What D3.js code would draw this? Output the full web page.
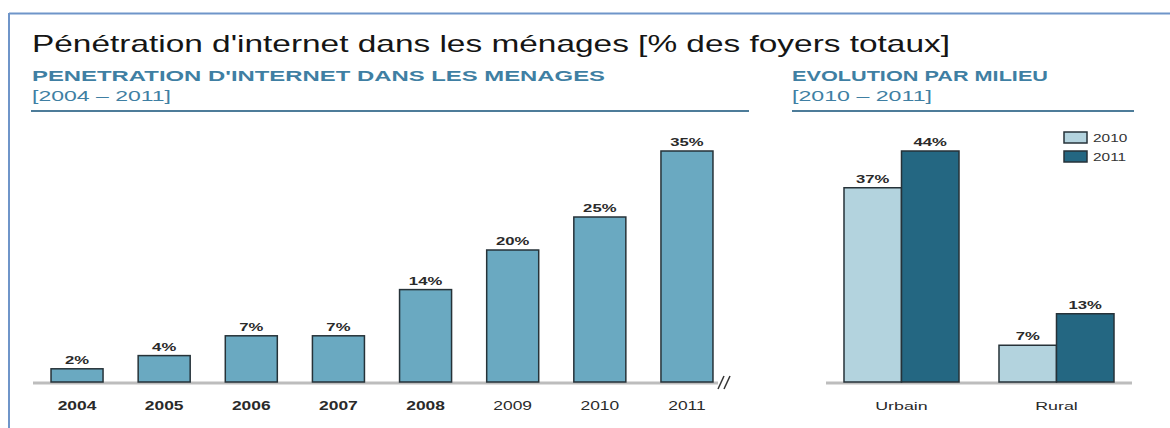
<!DOCTYPE html>
<head>
<meta charset="utf-8">
<style>
body { margin: 0; background: #fff; }
svg { display: block; font-family: Arial, "Liberation Sans", sans-serif; }
.title { font-size: 24px; fill: #151515; }
.sub { font-size: 15.5px; font-weight: bold; fill: #3f7fa3; }
.period { font-size: 14.5px; fill: #3f7fa3; }
.val { font-size: 11.5px; font-weight: bold; fill: #2a2a2a; text-anchor: middle; }
.tick { font-size: 12px; fill: #2a2a2a; text-anchor: middle; }
.leg { font-size: 11px; fill: #333; }
</style>
</head>
<body>
<svg width="1170" height="428"></svg>
<script src="https://d3js.org/d3.v7.min.js"></script>
<script>
// penetration by year
var years = ["2004", "2005", "2006", "2007", "2008", "2009", "2010", "2011"];
var yearValues = [2, 4, 7, 7, 14, 20, 25, 35];
var yearBold = [true, true, true, true, true, false, false, false];

// by area
var milieux = ["Urbain", "Rural"];
var series = ["2010", "2011"];
var values2010 = [37, 7];
var values2011 = [44, 13];

var svg = d3.select("svg");

// the original text is drawn wide, so stretch it horizontally
function stretch(sel, k) {
  sel.each(function() {
    var w = this.getComputedTextLength();
    d3.select(this).attr("textLength", w * k).attr("lengthAdjust", "spacingAndGlyphs");
  });
}

// frame
svg.append("line").attr("x1", 9).attr("x2", 1170).attr("y1", 13.5).attr("y2", 13.5)
  .attr("stroke", "#6f95c9").attr("stroke-width", 2);
svg.append("line").attr("x1", 9).attr("x2", 9).attr("y1", 13).attr("y2", 428)
  .attr("stroke", "#6f95c9").attr("stroke-width", 2);

var title = svg.append("text").attr("class", "title").attr("x", 32).attr("y", 52)
  .text("Pénétration d'internet dans les ménages [% des foyers totaux]");
title.attr("textLength", 918).attr("lengthAdjust", "spacingAndGlyphs");

svg.append("text").attr("class", "sub").attr("x", 32).attr("y", 81)
  .text("PENETRATION D'INTERNET DANS LES MENAGES")
  .attr("textLength", 573).attr("lengthAdjust", "spacingAndGlyphs");
svg.append("text").attr("class", "period").attr("x", 32).attr("y", 101).text("[2004 – 2011]")
  .attr("textLength", 139).attr("lengthAdjust", "spacingAndGlyphs");
svg.append("line").attr("x1", 31).attr("x2", 749).attr("y1", 111).attr("y2", 111)
  .attr("stroke", "#4d7c99").attr("stroke-width", 2);

svg.append("text").attr("class", "sub").attr("x", 792).attr("y", 81).text("EVOLUTION PAR MILIEU")
  .attr("textLength", 256).attr("lengthAdjust", "spacingAndGlyphs");
svg.append("text").attr("class", "period").attr("x", 792).attr("y", 101).text("[2010 – 2011]")
  .attr("textLength", 140).attr("lengthAdjust", "spacingAndGlyphs");
svg.append("line").attr("x1", 792).attr("x2", 1134).attr("y1", 111).attr("y2", 111)
  .attr("stroke", "#4d7c99").attr("stroke-width", 2);

var base = 382;

// left chart
var x1 = d3.scaleBand().domain(years).range([33.6, 730.4]).paddingInner(0.403).paddingOuter(0.2);
var y1 = d3.scaleLinear().domain([0, 35]).range([base, 151]);

svg.append("line").attr("x1", 33).attr("x2", 718).attr("y1", base + 1).attr("y2", base + 1)
  .attr("stroke", "#bdbdbd").attr("stroke-width", 3);
// axis break
[0, 6].forEach(function(o) {
  svg.append("line").attr("x1", 718 + o).attr("x2", 724 + o).attr("y1", base + 7).attr("y2", base - 6)
    .attr("stroke", "#333").attr("stroke-width", 1.5);
});

var g1 = svg.append("g");
g1.selectAll("rect").data(years).enter().append("rect")
  .attr("x", function(d) { return x1(d); })
  .attr("y", function(d, i) { return y1(yearValues[i]); })
  .attr("width", x1.bandwidth())
  .attr("height", function(d, i) { return base - y1(yearValues[i]); })
  .attr("fill", "#6aa9c1").attr("stroke", "#263238").attr("stroke-width", 1.5);
g1.selectAll("text.val").data(years).enter().append("text").attr("class", "val")
  .attr("x", function(d) { return x1(d) + x1.bandwidth() / 2; })
  .attr("y", function(d, i) { return y1(yearValues[i]) - 5; })
  .text(function(d, i) { return yearValues[i] + "%"; })
  .call(stretch, 1.45);
g1.selectAll("text.tick").data(years).enter().append("text").attr("class", "tick")
  .attr("x", function(d) { return x1(d) + x1.bandwidth() / 2; })
  .attr("y", 410)
  .style("font-weight", function(d, i) { return yearBold[i] ? "bold" : "normal"; })
  .text(function(d) { return d; })
  .call(stretch, 1.45);

// right chart
var x2 = d3.scaleBand().domain(milieux).range([825.4, 1132.6]).paddingInner(0.258).paddingOuter(0.12);
var xs = d3.scaleBand().domain(series).range([0, x2.bandwidth()]);
var y2 = d3.scaleLinear().domain([0, 44]).range([base, 151]);
var colors = d3.scaleOrdinal().domain(series).range(["#b3d3de", "#246782"]);

svg.append("line").attr("x1", 826).attr("x2", 1132).attr("y1", base + 1).attr("y2", base + 1)
  .attr("stroke", "#bdbdbd").attr("stroke-width", 3);

var cells = [];
milieux.forEach(function(m, i) {
  cells.push({ m: m, s: "2010", v: values2010[i] });
  cells.push({ m: m, s: "2011", v: values2011[i] });
});
var g2 = svg.append("g");
g2.selectAll("rect").data(cells).enter().append("rect")
  .attr("x", function(d) { return x2(d.m) + xs(d.s); })
  .attr("y", function(d) { return y2(d.v); })
  .attr("width", xs.bandwidth())
  .attr("height", function(d) { return base - y2(d.v); })
  .attr("fill", function(d) { return colors(d.s); })
  .attr("stroke", "#263238").attr("stroke-width", 1.5);
g2.selectAll("text.val").data(cells).enter().append("text").attr("class", "val")
  .attr("x", function(d) { return x2(d.m) + xs(d.s) + xs.bandwidth() / 2; })
  .attr("y", function(d) { return y2(d.v) - 5; })
  .text(function(d) { return d.v + "%"; })
  .call(stretch, 1.45);
g2.selectAll("text.tick").data(milieux).enter().append("text").attr("class", "tick")
  .attr("x", function(d) { return x2(d) + x2.bandwidth() / 2; })
  .attr("y", 410).style("font-size", "11.5px")
  .text(function(d) { return d; })
  .call(stretch, 1.55);

// legend
var leg = svg.append("g").attr("transform", "translate(1064,132)");
series.forEach(function(s, i) {
  leg.append("rect").attr("x", 0).attr("y", i * 19).attr("width", 23).attr("height", 11)
    .attr("fill", colors(s)).attr("stroke", "#263238").attr("stroke-width", 1.5);
  leg.append("text").attr("class", "leg").attr("x", 29).attr("y", i * 19 + 10).text(s)
    .call(stretch, 1.4);
});
</script>
</body>
